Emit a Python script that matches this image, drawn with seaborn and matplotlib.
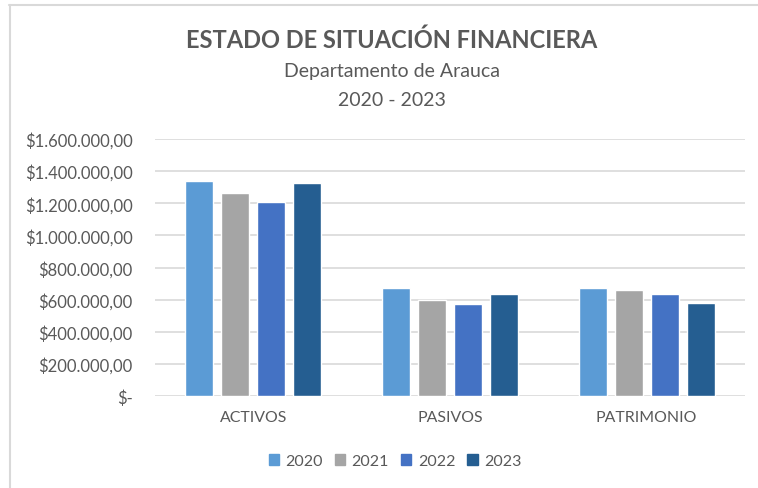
import matplotlib
matplotlib.use("Agg")
import matplotlib.pyplot as plt
from matplotlib.lines import Line2D
from matplotlib.ticker import FuncFormatter
import seaborn as sns
import pandas as pd

categories = ["ACTIVOS", "PASIVOS", "PATRIMONIO"]
years = ["2020", "2021", "2022", "2023"]
v2020 = [1340000, 670000, 670000]
v2021 = [1264000, 599000, 663000]
v2022 = [1210000, 574000, 634000]
v2023 = [1324000, 638000, 580000]
colors = ["#5B9BD5", "#A5A5A5", "#4472C4", "#255E91"]

rows = []
for y, vals in zip(years, [v2020, v2021, v2022, v2023]):
    for c, v in zip(categories, vals):
        rows.append({"cat": c, "year": y, "val": v})
df = pd.DataFrame(rows)

sns.set_theme(style="white")
plt.rcParams["font.family"] = ["Lato", "DejaVu Sans"]

W, H = 758, 489
fig = plt.figure(figsize=(W / 100, H / 100), dpi=100)
ax = fig.add_axes([155 / W, 1 - 397 / H, (745 - 155) / W, (397 - 140) / H])

sns.barplot(data=df, x="cat", y="val", hue="year", palette=colors,
            width=0.732, gap=0.23, ax=ax, legend=False, saturation=1)

ax.set_ylim(0, 1600000)
ax.set_xlim(-0.5, 2.5)
ax.set_yticks(range(0, 1600001, 200000))

def fmt(v, pos):
    if v == 0:
        return "$-"
    s = f"{int(v):,}".replace(",", ".")
    return f"${s},00"

ax.yaxis.set_major_formatter(FuncFormatter(fmt))
ax.yaxis.grid(True, color="#D9D9D9", linewidth=1.2)
ax.set_axisbelow(True)
for s in ax.spines.values():
    s.set_visible(False)
ax.set_xlabel("")
ax.set_ylabel("")
ax.tick_params(axis="y", length=0, labelsize=12, labelcolor="#595959", pad=16)
ax.tick_params(axis="x", length=0, labelsize=11.4, labelcolor="#595959", pad=10)

fig.text(392 / W, 1 - 40 / H, "ESTADO DE SITUACIÓN FINANCIERA", ha="center", va="center",
         fontsize=17, fontweight="bold", color="#595959")
fig.text(392 / W, 1 - 72 / H, "Departamento de Arauca", ha="center", va="center",
         fontsize=14, color="#595959")
fig.text(392 / W, 1 - 101 / H, "2020 - 2023", ha="center", va="center",
         fontsize=14, color="#595959")

handles = [plt.Rectangle((0, 0), 1, 1, color=c) for c in colors]
fig.legend(handles, years, loc="center", bbox_to_anchor=(395 / W, 1 - 462 / H), ncol=4,
           frameon=False, fontsize=11.5, labelcolor="#595959", handlelength=0.65,
           handleheight=0.65, handletextpad=0.4, columnspacing=0.75)

fig.add_artist(Line2D([9 / W, 1], [1 - 6 / H, 1 - 6 / H], color="#D9D9D9", linewidth=1.5))
fig.add_artist(Line2D([10 / W, 10 / W], [0, 1 - 6 / H], color="#D9D9D9", linewidth=1.5))

fig.savefig("out.png", dpi=100)
